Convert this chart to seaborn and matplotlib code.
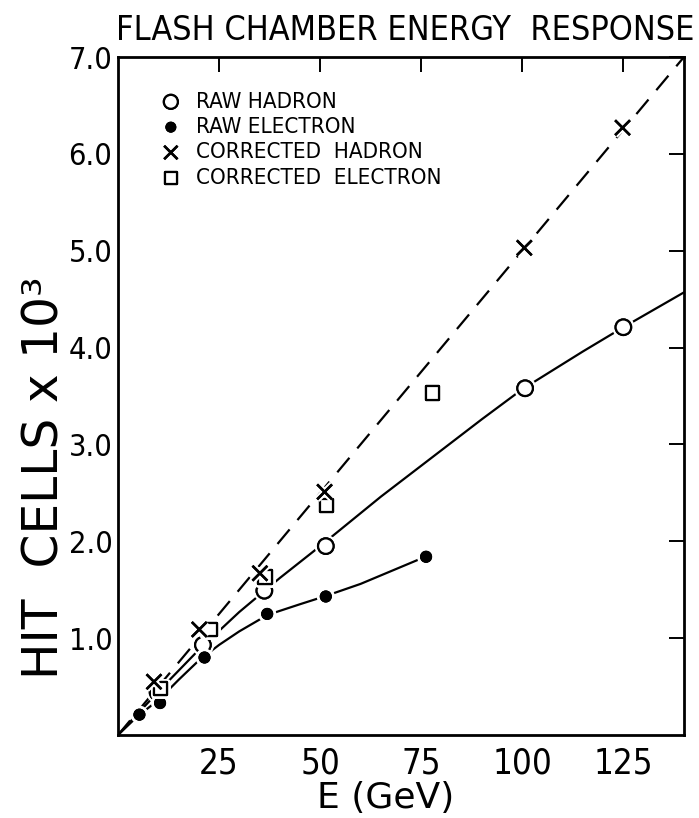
import matplotlib
matplotlib.use("Agg")
import matplotlib.pyplot as plt
import matplotlib.patheffects as pe
from matplotlib import font_manager
import seaborn as sns

# ---- data ----
E_raw_had = [9.8, 21.0, 36.2, 51.4, 100.7, 125.0]
N_raw_had = [0.44, 0.93, 1.49, 1.95, 3.58, 4.21]
E_raw_el = [5.3, 10.4, 21.4, 36.9, 51.4, 76.2]
N_raw_el = [0.21, 0.33, 0.80, 1.25, 1.43, 1.84]
E_cor_had = [8.9, 20.1, 35.1, 51.1, 100.5, 124.8]
N_cor_had = [0.55, 1.09, 1.67, 2.51, 5.03, 6.27]
E_cor_el = [10.5, 22.8, 36.4, 51.6, 77.8]
N_cor_el = [0.48, 1.09, 1.63, 2.37, 3.53]

# drawn curves
had_curve_E = [0, 10, 20, 30, 40, 50, 65, 75, 90, 100, 115, 125, 140]
had_curve_N = [0, 0.45, 0.88, 1.27, 1.62, 1.95, 2.46, 2.78, 3.26, 3.57, 3.96, 4.21, 4.57]
el_curve_E = [0, 5, 10, 15, 20, 25, 30, 37, 45, 51, 60, 76]
el_curve_N = [0, 0.20, 0.36, 0.57, 0.77, 0.93, 1.07, 1.24, 1.35, 1.43, 1.56, 1.84]
cor_curve_E = [0, 140]
cor_curve_N = [0, 7.0]

x_ticks = [25, 50, 75, 100, 125]
y_ticks = [1, 2, 3, 4, 5, 6, 7]
y_ticklabels = ["1.0", "2.0", "3.0", "4.0", "5.0", "6.0", "7.0"]

labels = ["RAW HADRON", "RAW ELECTRON", "CORRECTED  HADRON", "CORRECTED  ELECTRON"]
title = "FLASH CHAMBER ENERGY  RESPONSE"

sns.set_theme(style="white")
names = {f.name for f in font_manager.fontManager.ttflist}
fam = "Liberation Sans Narrow" if "Liberation Sans Narrow" in names else "DejaVu Sans"
plt.rcParams["font.family"] = [fam, "DejaVu Sans"]
plt.rcParams["font.stretch"] = "condensed"

fig = plt.figure(figsize=(6.99, 8.18), dpi=100)
ax = fig.add_axes([118/699, 83/818, 566/699, 678/818])

line_kw = dict(color="black", linewidth=1.6, ax=ax, sort=False, estimator=None)
sns.lineplot(x=had_curve_E, y=had_curve_N, **line_kw)
sns.lineplot(x=el_curve_E, y=el_curve_N, **line_kw)
sns.lineplot(x=cor_curve_E, y=cor_curve_N, linestyle=(0, (8.5, 5.5)), **line_kw)

halo = [pe.withStroke(linewidth=5, foreground="white")]
sns.scatterplot(x=E_raw_had, y=N_raw_had, marker="o", s=125, facecolor="white",
                edgecolor="black", linewidth=1.6, ax=ax, label=labels[0], zorder=5)
sns.scatterplot(x=E_raw_el, y=N_raw_el, marker="o", s=65, color="black",
                edgecolor="black", ax=ax, label=labels[1], zorder=5)
sns.scatterplot(x=E_cor_had, y=N_cor_had, marker="x", s=115, color="black",
                linewidth=1.8, ax=ax, label=labels[2], zorder=6)
sns.scatterplot(x=E_cor_el, y=N_cor_el, marker="s", s=95, facecolor="white",
                edgecolor="black", linewidth=1.6, ax=ax, label=labels[3], zorder=5)
for coll in ax.collections:
    coll.set_path_effects(halo + [pe.Normal()])

ax.set_xlim(0, 140)
ax.set_ylim(0, 7.0)
ax.set_xticks(x_ticks)
ax.set_xticklabels([str(t) for t in x_ticks])
ax.set_yticks(y_ticks)
ax.set_yticklabels(y_ticklabels)
ax.tick_params(direction="in", top=True, right=True, length=11, width=1.4,
               color="black", labelcolor="black")
ax.tick_params(axis="x", pad=8, labelsize=25)
ax.tick_params(axis="y", pad=4, labelsize=22)
for sp in ax.spines.values():
    sp.set_color("black")
    sp.set_linewidth(2.0)

ax.set_xlabel("E (GeV)", fontsize=26, color="black", fontstretch="normal")
ax.xaxis.set_label_coords(0.473, -0.0925)
ax.xaxis.label.set_va("center")
ax.set_ylabel("HIT  CELLS x 10³", fontsize=35, color="black", fontstretch="normal")
ax.yaxis.set_label_coords(-0.129, 0.379)
ax.yaxis.label.set_va("center")

leg = ax.legend(loc="upper left", bbox_to_anchor=(0.06, 0.962), frameon=False,
                fontsize=16, handletextpad=0.7, labelspacing=0.24, borderaxespad=0,
                handlelength=0.9, markerscale=0.9)
for t in leg.get_texts():
    t.set_color("black")

t = fig.text(405/699, 1 - 31/818, title, ha="center", va="center", fontsize=26, color="black")
# fit the title to the reference width (~580 px)
r = fig.canvas.get_renderer()
w = t.get_window_extent(r).width
t.set_fontsize(26 * 580 / w)

fig.savefig("out.png", dpi=100, facecolor="white")
